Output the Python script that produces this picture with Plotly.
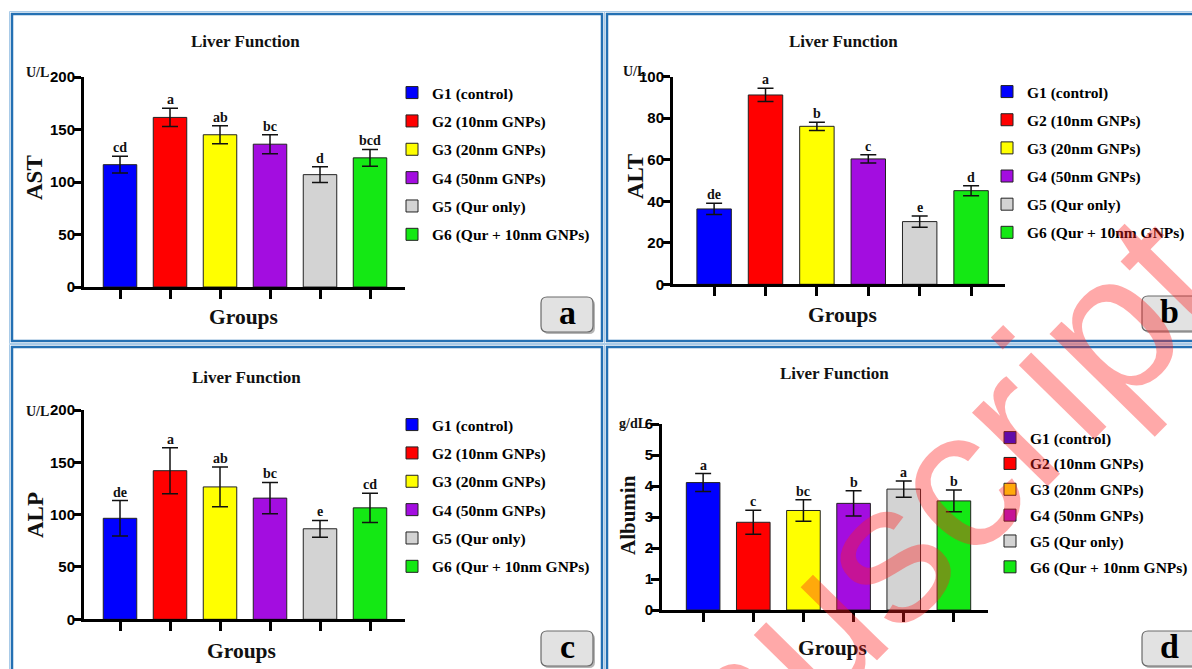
import plotly.graph_objects as go

W, H = 1192, 669

# ---------------- data ----------------
groups = ["G1 (control)", "G2 (10nm GNPs)", "G3 (20nm GNPs)",
          "G4 (50nm GNPs)", "G5 (Qur only)", "G6 (Qur + 10nm GNPs)"]
colors = ["#0000FF", "#FF0000", "#FFFF00", "#A30DE0", "#D3D3D3", "#14E814"]

ast_vals = [116.5, 161.5, 145.0, 136.0, 107.0, 123.0]
ast_err = [8.0, 8.7, 8.5, 9.0, 7.5, 8.0]
ast_letters = ["cd", "a", "ab", "bc", "d", "bcd"]

alt_vals = [36.3, 91.2, 76.1, 60.4, 30.2, 45.1]
alt_err = [2.7, 3.2, 2.0, 2.0, 2.7, 2.4]
alt_letters = ["de", "a", "b", "c", "e", "d"]

alp_vals = [96.5, 142.0, 126.5, 115.8, 86.5, 106.5]
alp_err = [17.0, 22.0, 19.0, 15.0, 8.0, 14.0]
alp_letters = ["de", "a", "ab", "bc", "e", "cd"]

alb_vals = [4.11, 2.83, 3.21, 3.44, 3.90, 3.52]
alb_err = [0.29, 0.39, 0.35, 0.41, 0.26, 0.35]
alb_letters = ["a", "c", "bc", "b", "a", "b"]

SERIF = "Liberation Serif"
SANS = "Liberation Sans"


def px(x):
    return x / W


def py(y):
    return 1 - y / H


panels = [
    dict(ax="", vals=ast_vals, err=ast_err, letters=ast_letters, ytitle="AST", unit="U/L", ysize=23,
         xpx=(84, 405), ypx=(77, 287), xr=(-0.72, 5.70), yr=(0, 200), dtick=50,
         title_xy=(245, 42), groups_xy=(243, 317), ytitle_xy=(35, 178), unit_xy=(37, 73),
         legend_xy=(392, 76), box=(541, 297, 593, 332), tag="a", tracegap=5.2),
    dict(ax="2", vals=alt_vals, err=alt_err, letters=alt_letters, ytitle="ALT", unit="U/L", ysize=23,
         xpx=(673, 1005), ypx=(76.7, 284.3), xr=(-0.80, 5.66), yr=(0, 100), dtick=20,
         title_xy=(843, 42), groups_xy=(842, 315), ytitle_xy=(635, 177), unit_xy=(634, 72),
         legend_xy=(987, 75), box=(1142, 296, 1198, 331), tag="b", tracegap=5.0),
    dict(ax="3", vals=alp_vals, err=alp_err, letters=alp_letters, ytitle="ALP", unit="U/L", ysize=23,
         xpx=(84, 405), ypx=(410, 619.3), xr=(-0.72, 5.70), yr=(0, 200), dtick=50,
         title_xy=(246, 377), groups_xy=(241, 651), ytitle_xy=(35, 515), unit_xy=(37, 411),
         legend_xy=(392, 408), box=(541, 631, 593, 666), tag="c", tracegap=5.2),
    dict(ax="4", vals=alb_vals, err=alb_err, letters=alb_letters, ytitle="Albumin", unit="g/dL", ysize=21,
         xpx=(662, 988), ypx=(424, 610), xr=(-0.82, 5.68), yr=(0, 6), dtick=1,
         title_xy=(834, 373), groups_xy=(832, 648), ytitle_xy=(628, 515), unit_xy=(633, 423),
         legend_xy=(990, 421), box=(1142, 631, 1198, 666), tag="d", tracegap=2.7),
]

fig = go.Figure()
annotations = []
shapes = []
layout = {}


def label(x, y, text, size, family=SERIF, bold=True, color="#111111", angle=0):
    return dict(x=px(x), y=py(y), xref="paper", yref="paper", text=text, showarrow=False,
                xanchor="center", yanchor="middle", textangle=angle,
                font=dict(family=family, size=size, color=color, weight="bold" if bold else "normal"))


def rpath(x0, y0, x1, y1, r):
    return (f"M {px(x0 + r)},{py(y0)} L {px(x1 - r)},{py(y0)} Q {px(x1)},{py(y0)} {px(x1)},{py(y0 + r)} "
            f"L {px(x1)},{py(y1 - r)} Q {px(x1)},{py(y1)} {px(x1 - r)},{py(y1)} "
            f"L {px(x0 + r)},{py(y1)} Q {px(x0)},{py(y1)} {px(x0)},{py(y1 - r)} "
            f"L {px(x0)},{py(y0 + r)} Q {px(x0)},{py(y0)} {px(x0 + r)},{py(y0)} Z")


for k, p in enumerate(panels):
    xa = "x" + p["ax"]
    ya = "y" + p["ax"]
    leg = "legend" + p["ax"]
    for i, g in enumerate(groups):
        fig.add_trace(go.Bar(
            x=[i], y=[p["vals"][i]], width=0.67, name=g,
            marker=dict(color=colors[i], line=dict(color="#222222", width=1)),
            error_y=dict(type="data", array=[p["err"][i]], color="#111111",
                         thickness=1.5, width=8),
            xaxis=xa, yaxis=ya, legend=leg, legendgroup=f"{p['tag']}{i}",
            showlegend=True, hoverinfo="skip"))
        annotations.append(dict(
            x=i, y=p["vals"][i] + p["err"][i], xref=xa, yref=ya,
            text=p["letters"][i], showarrow=False, xanchor="center", yanchor="bottom", yshift=-1,
            font=dict(family=SERIF, size=14, color="#111111", weight="bold")))

    layout["xaxis" + p["ax"]] = dict(
        domain=[px(p["xpx"][0]), px(p["xpx"][1])], range=list(p["xr"]),
        anchor=ya, showline=True, linewidth=3, linecolor="black",
        ticks="outside", ticklen=9, tickwidth=3, tickcolor="black",
        tickvals=list(range(6)), showticklabels=False, automargin=False,
        showgrid=False, zeroline=False, fixedrange=True)
    layout["yaxis" + p["ax"]] = dict(
        domain=[py(p["ypx"][1]), py(p["ypx"][0])], range=list(p["yr"]),
        anchor=xa, showline=True, linewidth=3, linecolor="black",
        ticks="outside", ticklen=8, tickwidth=3, tickcolor="black", dtick=p["dtick"],
        ticklabelstandoff=-5,
        tickfont=dict(family=SANS, size=15, color="black", weight="bold"), automargin=False,
        showgrid=False, zeroline=False, fixedrange=True)
    layout[leg] = dict(
        x=px(p["legend_xy"][0]), y=py(p["legend_xy"][1]), xanchor="left", yanchor="top",
        bgcolor="rgba(0,0,0,0)", tracegroupgap=p["tracegap"], traceorder="grouped",
        font=dict(family=SERIF, size=15.5, color="black", weight="bold"))

    annotations.append(label(*p["title_xy"], "Liver Function", 17))
    annotations.append(label(*p["groups_xy"], "Groups", 21.5))
    annotations.append(label(*p["ytitle_xy"], p["ytitle"], p["ysize"], angle=-90))
    annotations.append(label(*p["unit_xy"], p["unit"], 14))

    # tag box with rounded corners
    x0, y0, x1, y1 = p["box"]
    shapes.append(dict(type="path", xref="paper", yref="paper", path=rpath(x0 + 2, y0 + 2, x1 + 2, y1 + 2, 6),
                       fillcolor="#b5b5b5", line=dict(width=0), layer="above"))
    shapes.append(dict(type="path", xref="paper", yref="paper", path=rpath(x0, y0, x1, y1, 6),
                       fillcolor="#e2e2e2", line=dict(color="#6a6a6a", width=1.2), layer="above"))
    cx = (x0 + x1) / 2 - (1 if x1 > W else 0)
    annotations.append(label(cx, (y0 + y1) / 2 - 2, p["tag"], 34, color="black"))

# panel frames (double blue lines)
frames = [(12, 14, 602, 341), (607, 14, 1210, 341), (12, 347, 602, 690), (607, 347, 1210, 690)]
for (x0, y0, x1, y1) in frames:
    shapes.append(dict(type="rect", xref="paper", yref="paper", x0=px(x0), x1=px(x1), y0=py(y1), y1=py(y0),
                       line=dict(color="#2470B3", width=2.5), fillcolor="rgba(0,0,0,0)", layer="below"))
    shapes.append(dict(type="rect", xref="paper", yref="paper", x0=px(x0 - 2.5), x1=px(x1 + 2.5),
                       y0=py(y1 + 2.5), y1=py(y0 - 2.5),
                       line=dict(color="#A9CBE8", width=1), fillcolor="rgba(0,0,0,0)", layer="below"))

# watermark
annotations.append(label(840, 598, "Manuscript", 200, family=SANS, bold=False,
                         color="rgba(255,30,30,0.38)", angle=-45.5))

fig.update_layout(
    template="none",
    width=W, height=H, margin=dict(l=0, r=0, t=0, b=0, autoexpand=False),
    paper_bgcolor="white", plot_bgcolor="rgba(0,0,0,0)",
    font=dict(family=SERIF, color="#111111"),
    barmode="overlay", showlegend=True,
    annotations=annotations, shapes=shapes, **layout)

fig.write_html("out.html", config={"displayModeBar": False},
               post_script="document.body.style.margin='0';document.body.style.overflow='hidden';")
